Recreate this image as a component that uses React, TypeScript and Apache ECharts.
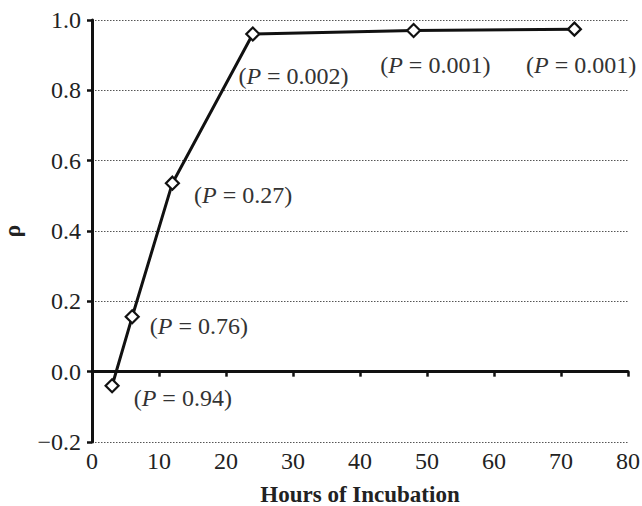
import React, { useEffect, useRef } from "react";
import * as echarts from "echarts";

const hours = [3, 6, 12, 24, 48, 72];
const rho = [-0.04, 0.156, 0.536, 0.96, 0.97, 0.974];
const pLabels = ["0.94", "0.76", "0.27", "0.002", "0.001", "0.001"];
const labelOffsets: [number, number][] = [
  [14, 12],
  [10, 9],
  [14, 12],
  [-22, 42],
  [-41, 34],
  [-56, 36],
];
const xTicks = [0, 10, 20, 30, 40, 50, 60, 70, 80];
const yTicks = [-0.2, 0, 0.2, 0.4, 0.6, 0.8, 1.0];

const FONT = "Liberation Serif";
const FS = 24;

export default function App() {
  const ref = useRef<HTMLDivElement>(null);
  useEffect(() => {
    if (!ref.current) return;
    const chart = echarts.init(ref.current, null, { renderer: "svg" });
    const data = hours.map((h, i) => ({
      value: [h, rho[i]],
      label: {
        show: true,
        position: "right",
        distance: 0,
        offset: labelOffsets[i],
        formatter: `({i|P} = ${pLabels[i]})`,
      },
    }));
    chart.setOption({
      animation: false,
      backgroundColor: "#fff",
      textStyle: { fontFamily: FONT },
      grid: {
        left: 92,
        right: 14,
        top: 20,
        bottom: 64,
        containLabel: false,
        outerBoundsMode: "none",
      },
      xAxis: [
        {
          type: "value",
          min: xTicks[0],
          max: xTicks[xTicks.length - 1],
          interval: 10,
          axisLine: { onZero: true, lineStyle: { color: "#111", width: 3 } },
          axisTick: { show: true, length: 5, lineStyle: { color: "#111", width: 2.5 } },
          axisLabel: { show: false },
          splitLine: { show: false },
        },
        {
          type: "value",
          position: "bottom",
          min: xTicks[0],
          max: xTicks[xTicks.length - 1],
          interval: 10,
          axisLine: { show: false, onZero: false },
          axisTick: { show: false },
          axisLabel: {
            show: true,
            margin: 7,
            fontSize: FS,
            fontFamily: FONT,
            color: "#222",
          },
          splitLine: { show: false },
          name: "Hours of Incubation",
          nameLocation: "middle",
          nameGap: 40,
          nameTextStyle: {
            fontSize: 23,
            fontWeight: "bold",
            fontFamily: FONT,
            color: "#222",
            lineHeight: 24,
          },
        },
      ],
      yAxis: {
        type: "value",
        min: yTicks[0],
        max: yTicks[yTicks.length - 1],
        interval: 0.2,
        axisLine: { show: true, onZero: false, lineStyle: { color: "#111", width: 3 } },
        axisTick: { show: true, length: 5, lineStyle: { color: "#111", width: 2.5 } },
        axisLabel: {
          margin: 11,
          fontSize: FS,
          fontFamily: FONT,
          color: "#222",
          formatter: (v: number) =>
            (v < -1e-9 ? "\u2212" : "") + Math.abs(v).toFixed(1),
        },
        splitLine: {
          show: true,
          lineStyle: { color: "#555", width: 1, type: [1.5, 1.5] },
        },
        name: "\u03c1",
        nameLocation: "middle",
        nameGap: 68,
        nameTextStyle: {
          fontSize: FS,
          fontWeight: "bold",
          fontFamily: FONT,
          color: "#222",
        },
      },
      series: [
        {
          type: "line",
          xAxisIndex: 0,
          yAxisIndex: 0,
          data,
          symbol: "diamond",
          symbolSize: 13,
          showAllSymbol: true,
          lineStyle: { color: "#111", width: 3 },
          itemStyle: { color: "#fff", borderColor: "#111", borderWidth: 2.2 },
          label: {
            fontSize: FS,
            fontFamily: FONT,
            color: "#333",
            rich: {
              i: { fontStyle: "italic", fontSize: FS, fontFamily: FONT, color: "#333" },
            },
          },
          z: 5,
        },
      ],
    });
    return () => chart.dispose();
  }, []);
  return (
    <div
      ref={ref}
      style={{ position: "fixed", left: 0, top: 0, width: 642, height: 506 }}
    />
  );
}
